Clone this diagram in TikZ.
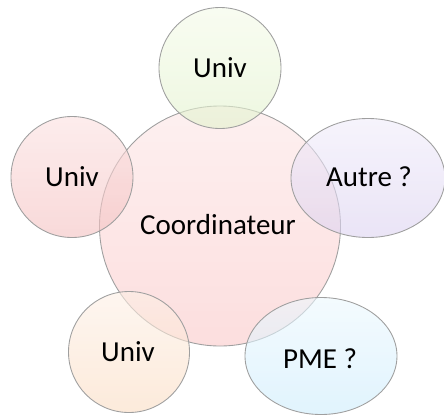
\documentclass[tikz,border=0pt]{standalone}
\usepackage{fontspec}
\setmainfont{Carlito}
\usepackage{tikz}
\usetikzlibrary{shapes.geometric}
\definecolor{coordT}{RGB}{252,230,230}
\definecolor{coordB}{RGB}{250,200,200}
\definecolor{vertT}{RGB}{244,250,232}
\definecolor{vertB}{RGB}{226,242,204}
\definecolor{roseT}{RGB}{251,224,224}
\definecolor{roseB}{RGB}{244,192,192}
\definecolor{mauveT}{RGB}{240,236,250}
\definecolor{mauveB}{RGB}{220,210,240}
\definecolor{pecheT}{RGB}{253,240,230}
\definecolor{pecheB}{RGB}{250,220,194}
\definecolor{bleuT}{RGB}{236,248,254}
\definecolor{bleuB}{RGB}{204,236,252}
\newcommand{\bubble}[6]{\node[bubble, minimum width=#4*0.02cm, minimum height=#5*0.02cm, top color=#6T, bottom color=#6B] (#1) at (#2,#3) {};}
\begin{document}
\begin{tikzpicture}[x=0.02cm,y=-0.02cm]
\tikzset{bubble/.style={ellipse, draw=gray!75, line width=0.5pt, fill opacity=0.6, inner sep=0pt},
  bubbletext/.style={font=\fontsize{16.5}{19}\selectfont, text=black}}
\useasboundingbox (0,0) rectangle (444,417);
\bubble{coord}{220}{226}{241}{240}{coord}
\bubble{haut}{220}{68}{122}{121}{vert}
\bubble{gauche}{72}{177}{122}{121}{rose}
\bubble{droite}{368}{178}{154}{119}{mauve}
\bubble{basg}{129}{352}{121}{121}{peche}
\bubble{basd}{321}{356}{152}{117}{bleu}
\node[bubbletext] (tcoord) at (218,225) {Coordinateur};
\node[bubbletext] (thaut) at (220,68) {Univ};
\node[bubbletext] (tgauche) at (72,177) {Univ};
\node[bubbletext] (tdroite) at (369,177) {Autre ?};
\node[bubbletext] (tbasg) at (128,352) {Univ};
\node[bubbletext] (tbasd) at (320,359) {PME ?};
\end{tikzpicture}
\end{document}
